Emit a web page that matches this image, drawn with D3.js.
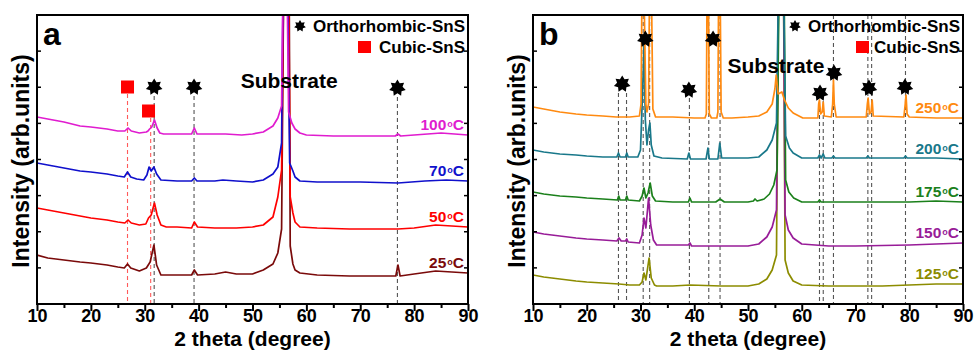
<!DOCTYPE html>
<html>
<head>
<meta charset="utf-8">
<script src="https://cdn.jsdelivr.net/npm/d3@7"></script>
<style>
  body { margin: 0; background: #fff; }
  text { font-family: "Liberation Sans", Arial, sans-serif; font-weight: bold; }
</style>
</head>
<body>
<svg id="chart" width="974" height="358"></svg>
<script>
// ---- panel a : scans, [2theta, intensity (arb.)]
var labelsA = ['100', '70', '50', '25'];
var scanA100 = [[10,187],[12,185],[15,182],[18,178],[20,177],[23,175],[25,173],[26.3,173],[26.9,176],[27.5,173],[29,171],[30.3,172],[30.6,173],[30.9,175],[31.3,177],[31.8,184],[32.3,176],[32.8,171],[33.5,170],[36,170],[38.7,170],[39.2,176],[39.7,170],[42,170],[45,170],[48,169],[50,170],[52,172],[53.8,178],[54.7,186],[55.4,198],[55.7,330],[56.4,330],[56.7,192],[57.3,181],[57.9,175],[58.8,171],[60,169],[65,168],[70,168],[76.5,168],[77,170],[77.5,168],[80,169],[85,171],[90,169]];
var scanA70 = [[10,141],[12,139],[15,136],[18,133],[20,132],[23,130],[25,128],[26.2,127],[26.8,132],[27.4,127],[28.5,125],[29.8,124],[30.4,129],[30.8,137],[31.2,133],[31.7,137],[32.2,130],[33,124],[36,123],[38.7,123],[39.2,126],[39.7,123],[43,123],[44.5,124],[47,123],[50,122],[52,124],[53.8,130],[54.7,137],[55.4,161],[55.7,330],[56.5,330],[56.9,141],[57.5,133],[57.9,127],[58.8,123],[62,122],[70,122],[77,121],[82,123],[86,124],[90,123]];
var scanA50 = [[10,96],[12,94],[15,91],[18,88],[20,86],[23,84],[25,82],[26.3,81],[26.9,84],[27.5,81],[29,79],[30.2,80],[30.7,86],[31.2,89],[31.8,101],[32.3,89],[33,79],[34,77],[36,77],[38.7,76],[39.2,82],[39.8,77],[43,76],[47,76],[50,77],[52,79],[53.8,87],[54.7,107],[55.4,134],[55.8,330],[56.7,330],[57.0,107],[57.5,91],[57.9,82],[58.8,77],[62,76],[68,75],[72,75],[77,75],[80,76],[84,79],[87,78],[90,77]];
var scanA25 = [[10,49],[12,46],[15,44],[18,42],[20,41],[23,39],[25,37],[26.2,36],[26.8,40],[27.4,36],[29,33],[30.3,36],[31.0,42],[31.7,59],[32.2,39],[33,29],[36,29],[38.7,29],[39.2,34],[39.8,29],[43,30],[45,32],[47,30],[50,30],[52,34],[53.8,40],[54.7,51],[55.4,75],[55.8,330],[56.8,330],[57.0,58],[57.5,40],[57.9,34],[58.8,31],[62,29],[68,28],[72,28],[76.6,28],[77.0,39],[77.4,28],[80,30],[84,33],[87,32],[90,31]];
var cubicA = [[26.8,217],[30.7,193]];
var cubicDashA = [[26.8,210],[31.1,186]];
var orthoA = [[31.75,217],[39.15,217],[76.9,216]];
var orthoDashA = [[31.75,208],[39.15,208],[76.9,207]];

// ---- panel b
var labelsB = ['250', '200', '175', '150', '125'];
var scanB250 = [[10,197],[12,195],[15,192],[18,190],[20,189],[23,188],[25.5,187],[28,187],[29.8,188],[30.1,200],[30.3,330],[30.6,330],[31.0,200],[31.2,192],[31.5,200],[31.7,330],[32.0,330],[32.3,195],[32.8,187],[36,187],[40,186],[42.0,186],[42.25,190],[42.4,330],[42.6,330],[42.8,190],[43.2,186],[44.2,186],[44.4,192],[44.55,330],[44.8,330],[45.0,192],[45.4,186],[47,186],[50,187],[52,188],[53.5,192],[54.5,200],[55.0,215],[55.25,229],[55.6,210],[56.3,212],[56.8,204],[57.5,196],[58.4,191],[60.2,186],[63,186],[63.15,200],[63.3,204],[63.5,190],[63.8,192],[64.0,202],[64.2,188],[65.5,187],[65.75,200],[65.9,224],[66.05,200],[66.4,187],[72.0,187],[72.2,200],[72.35,206],[72.6,190],[72.9,192],[73.1,204],[73.3,188],[79.0,187],[79.25,200],[79.4,209],[79.6,190],[80,187],[85,186],[90,186]];
var scanB200 = [[10,154],[12,152],[15,150],[18,149],[20,148],[23,147],[25.6,147],[25.9,151],[26.2,147],[27.2,147],[27.45,151],[27.7,147],[29.5,147],[30.0,154],[30.4,214],[30.65,259],[30.9,184],[31.2,159],[31.5,174],[31.75,181],[32.0,159],[32.5,148],[34,146],[38.7,145],[39.0,151],[39.3,145],[42.2,145],[42.55,156],[42.8,145],[44.4,145],[44.75,161],[45.1,146],[48,146],[50,146],[52,147],[53.5,154],[54.5,164],[55.3,181],[55.7,330],[56.6,330],[57.0,168],[57.7,156],[58.4,151],[60,146],[62,146],[63.0,146],[63.3,149],[63.6,146],[64.0,150],[64.3,146],[65.6,146],[65.9,148],[66.2,146],[70,146],[72.0,146],[72.3,148],[72.6,146],[79.0,146],[79.3,148],[79.6,146],[85,146],[90,145]];
var scanB175 = [[10,112],[12,110],[15,108],[18,107],[20,106],[23,105],[25.7,104],[25.95,108],[26.2,104],[27.2,104],[27.45,108],[27.7,104],[29.8,103],[30.3,108],[30.65,116],[31.0,106],[31.4,111],[31.8,121],[32.2,108],[32.8,103],[36,102],[38.9,102],[39.2,106],[39.5,102],[44,102],[44.8,105],[45.6,102],[50,102],[51.0,103],[51.3,105],[51.7,103],[53,105],[54,110],[54.8,119],[55.4,134],[55.8,330],[56.7,330],[57.0,124],[57.6,112],[58.5,106],[60,102],[63,102],[63.3,104],[63.6,102],[70,102],[80,102],[85,103],[90,102]];
var scanB150 = [[10,72],[12,70],[15,68],[18,66],[20,65],[23,64],[25.6,63],[26.0,66],[26.4,63],[27.2,63],[27.45,65],[27.7,62],[29.8,61],[30.3,69],[30.65,86],[31.0,76],[31.5,106],[31.9,79],[32.4,64],[33,59],[36,59],[38.9,59],[39.2,61],[39.5,58],[45,58],[50,58],[52,60],[53.5,67],[54.5,77],[55.3,94],[55.7,330],[56.6,330],[56.9,89],[57.5,74],[58.4,66],[60,60],[65,58],[70,58],[80,59],[85,60],[90,61]];
var scanB125 = [[10,29],[12,27],[15,25],[18,23],[20,22],[23,21],[26,20],[28,19],[29.8,19],[30.3,22],[30.65,31],[31.0,24],[31.6,46],[32.0,26],[32.6,19],[33,18],[36,18],[39.2,19],[45,18],[50,18],[52,20],[53.5,25],[54.5,34],[55.3,49],[55.7,330],[56.6,330],[56.9,44],[57.5,31],[58.4,23],[60,19],[65,18],[70,18],[75,18],[80,19],[85,20],[90,20]];
var orthoB = [[26.6,220],[30.9,265],[39.0,214],[43.5,265],[63.4,211],[66.0,231],[72.5,216],[79.2,217]];
var orthoDashB = [[25.9,211],[27.4,211],[30.5,289],[31.7,289],[39.1,206],[42.7,289],[44.8,289],[63.3,203],[64.0,203],[65.9,289],[72.3,289],[73.0,289],[79.3,289]];

var xTicks = [10, 20, 30, 40, 50, 60, 70, 80, 90];
var substrateA = [56.8, 216];
var substrateB = [55.2, 231];

var colorsA = ['#e01ccf', '#1010cc', '#ff0000', '#7a0a0a'];
var colorsB = ['#ff8a10', '#19788a', '#1b801b', '#981c98', '#8c8c00'];

var svg = d3.select('#chart');

function starPath(r) {
  var pts = [];
  for (var i = 0; i < 14; i++) {
    var a = -Math.PI / 2 + i * Math.PI / 7;
    var rr = i % 2 ? r * 0.62 : r;
    pts.push([rr * Math.cos(a), rr * Math.sin(a)]);
  }
  return 'M' + pts.join('L') + 'Z';
}

function drawPanel(p) {
  var x = d3.scaleLinear().domain([10, 90]).range([p.left, p.right]);
  var y = d3.scaleLinear().domain([0, 289]).range([304, 15]);
  var g = svg.append('g');

  g.append('clipPath').attr('id', 'clip' + p.id)
    .append('rect')
    .attr('x', p.left).attr('y', 15)
    .attr('width', p.right - p.left).attr('height', 289);

  var plot = g.append('g').attr('clip-path', 'url(#clip' + p.id + ')');

  // dashed guide lines
  plot.selectAll('.cdash')
    .data(p.cubicDash).enter()
    .append('line')
    .attr('x1', function(d) { return x(d[0]); })
    .attr('x2', function(d) { return x(d[0]); })
    .attr('y1', function(d) { return y(d[1]); })
    .attr('y2', y(0))
    .style('stroke', '#ff5a5a')
    .style('stroke-width', 1.1)
    .style('stroke-dasharray', '4,3');

  plot.selectAll('.odash')
    .data(p.orthoDash).enter()
    .append('line')
    .attr('x1', function(d) { return x(d[0]); })
    .attr('x2', function(d) { return x(d[0]); })
    .attr('y1', function(d) { return y(d[1]); })
    .attr('y2', y(0))
    .style('stroke', '#555')
    .style('stroke-width', 1.1)
    .style('stroke-dasharray', '4,3');

  var line = d3.line()
    .x(function(d) { return x(d[0]); })
    .y(function(d) { return y(d[1]); });

  // lowest scan last on top
  p.scans.slice().reverse().forEach(function(s, j) {
    var i = p.scans.length - 1 - j;
    plot.append('path')
      .attr('d', line(s))
      .style('fill', 'none')
      .style('stroke', p.colors[i])
      .style('stroke-width', 1.7)
      .style('stroke-linejoin', 'round');
  });

  // temperature labels
  p.scans.forEach(function(s, i) {
    var t = g.append('text')
      .attr('x', p.right - 4)
      .attr('y', y(s[s.length - 1][1]) - 5)
      .attr('text-anchor', 'end')
      .style('font-size', '15.5px')
      .style('fill', p.colors[i]);
    t.append('tspan').text(p.labels[i]);
    t.append('tspan').text('o').style('font-size', '9px').attr('dy', -3).attr('dx', 1);
    t.append('tspan').text('C').attr('dy', 3);
  });

  // markers
  g.selectAll('.sq')
    .data(p.cubic).enter()
    .append('rect')
    .attr('x', function(d) { return x(d[0]) - 6.5; })
    .attr('y', function(d) { return y(d[1]) - 6.5; })
    .attr('width', 13).attr('height', 13)
    .style('fill', '#ff0000');

  g.selectAll('.star')
    .data(p.ortho).enter()
    .append('path')
    .attr('d', starPath(8.5))
    .attr('transform', function(d) { return 'translate(' + x(d[0]) + ',' + y(d[1]) + ')'; })
    .style('fill', '#000');

  g.append('text')
    .attr('x', x(p.substrate[0])).attr('y', y(p.substrate[1]))
    .attr('text-anchor', 'middle')
    .style('font-size', '21px')
    .text('Substrate');

  // frame
  g.append('rect')
    .attr('x', p.left).attr('y', 15)
    .attr('width', p.right - p.left).attr('height', 289)
    .style('fill', 'none').style('stroke', '#000').style('stroke-width', 2);

  // x axis, major + minor
  var ax = g.append('g').attr('transform', 'translate(0,304)')
    .call(d3.axisBottom(x).tickValues(xTicks).tickSize(7).tickFormat(d3.format('d')));
  ax.select('.domain').remove();
  ax.selectAll('line').style('stroke-width', 2);
  ax.selectAll('text').attr('y', 5).attr('dy', '0.71em')
    .style('font-size', '18px').style('font-family', '"Liberation Sans", Arial, sans-serif')
    .style('font-weight', 'bold').style('fill', '#000');

  var minor = g.append('g').attr('transform', 'translate(0,304)')
    .call(d3.axisBottom(x).tickValues(d3.range(15, 90, 10)).tickSize(4).tickFormat(''));
  minor.select('.domain').remove();
  minor.selectAll('line').style('stroke-width', 2);

  // y ticks (inward, no labels)
  var yt = d3.range(1, 8).map(function(k) { return k * 289 / 8; });
  g.selectAll('.ytl').data(yt).enter().append('line')
    .attr('x1', p.left).attr('x2', p.left + 4)
    .attr('y1', function(d) { return y(d); }).attr('y2', function(d) { return y(d); })
    .style('stroke', '#000').style('stroke-width', 1.5);
  g.selectAll('.ytr').data(yt).enter().append('line')
    .attr('x1', p.right).attr('x2', p.right - 4)
    .attr('y1', function(d) { return y(d); }).attr('y2', function(d) { return y(d); })
    .style('stroke', '#000').style('stroke-width', 1.5);

  // axis titles
  g.append('text')
    .attr('x', (p.left + p.right) / 2).attr('y', 346)
    .attr('text-anchor', 'middle')
    .style('font-size', '21px')
    .text('2 theta (degree)');

  g.append('text')
    .attr('transform', 'translate(' + (p.left - 8) + ',' + 161 + ') rotate(-90)')
    .attr('text-anchor', 'middle')
    .style('font-size', '23px')
    .text('Intensity (arb.units)');

  // panel letter
  g.append('text')
    .attr('x', p.left + 6).attr('y', 45)
    .style('font-size', '32px')
    .text(p.id);

  // legend
  g.append('path')
    .attr('d', starPath(6))
    .attr('transform', 'translate(' + (p.right - 168) + ',26)');
  g.append('text')
    .attr('x', p.right - 3).attr('y', 32)
    .attr('text-anchor', 'end')
    .style('font-size', '17px')
    .text('Orthorhombic-SnS');
  g.append('rect')
    .attr('x', p.right - p.legSq).attr('y', 41)
    .attr('width', 13).attr('height', 12)
    .style('fill', '#ff0000');
  g.append('text')
    .attr('x', p.right - 3).attr('y', 53)
    .attr('text-anchor', 'end')
    .style('font-size', '17px')
    .text('Cubic-SnS');
}

drawPanel({
  id: 'a', left: 37, right: 468,
  scans: [scanA100, scanA70, scanA50, scanA25],
  labels: labelsA, colors: colorsA,
  cubic: cubicA, cubicDash: cubicDashA,
  ortho: orthoA, orthoDash: orthoDashA,
  substrate: substrateA, legSq: 110
});

drawPanel({
  id: 'b', left: 533, right: 963,
  scans: [scanB250, scanB200, scanB175, scanB150, scanB125],
  labels: labelsB, colors: colorsB,
  cubic: [], cubicDash: [],
  ortho: orthoB, orthoDash: orthoDashB,
  substrate: substrateB, legSq: 107
});
</script>
</body>
</html>
